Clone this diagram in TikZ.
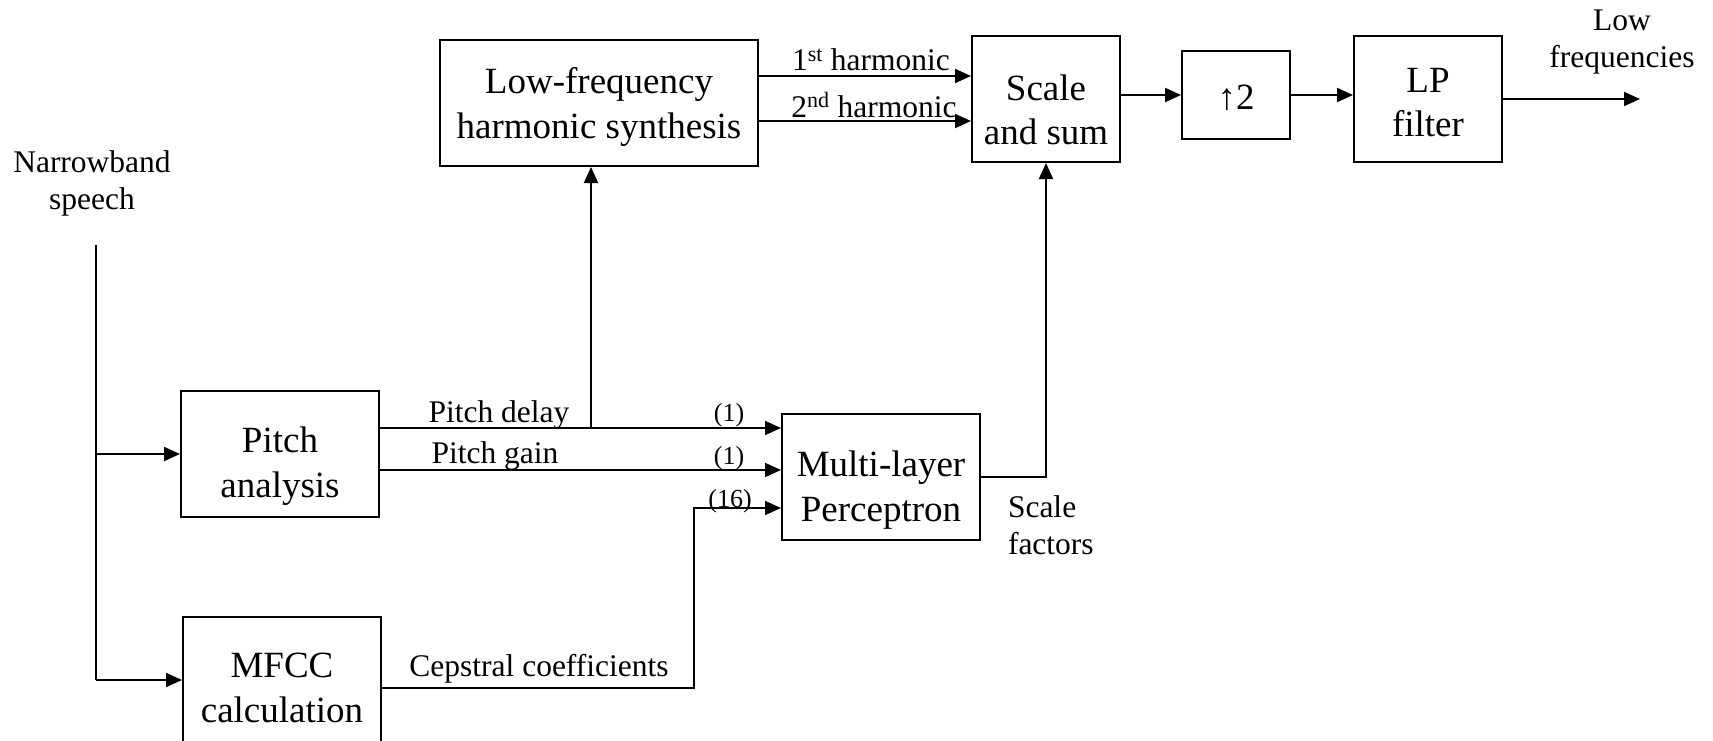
\documentclass[tikz,border=0pt]{standalone}
\usepackage{fontspec}
\setmainfont{Liberation Serif}
\usetikzlibrary{arrows.meta,calc}
\begin{document}
\begin{tikzpicture}[x=1pt,y=-1pt,
  line width=2pt,
  blk/.style={draw,line width=2pt,inner sep=0pt},
  btxt/.style={inner sep=0pt,align=center,font=\fontsize{37}{44.5}\selectfont},
  lbl/.style={inner sep=0pt,align=center,font=\fontsize{31.5}{37}\selectfont},
  sml/.style={inner sep=0pt,font=\fontsize{26}{30}\selectfont},
  arr/.style={-{Triangle[length=16pt,width=14pt]}}]
\useasboundingbox (0,0) rectangle (1713,741);
% blocks
\node[blk,minimum width=318pt,minimum height=126pt] (lf) at (599,103) {};
\node[btxt] (lft) at (599,107) {Low-frequency\\harmonic synthesis};
\node[blk,minimum width=148pt,minimum height=126pt] (ss) at (1046,99) {};
\node[btxt] (sst) at (1046,110) {Scale\\and sum};
\node[blk,minimum width=108pt,minimum height=88pt] (up) at (1236,95) {};
\node[btxt] (upt) at (1236,98) {↑2};
\node[blk,minimum width=148pt,minimum height=126pt] (lp) at (1428,99) {};
\node[btxt] (lpt) at (1428,102.5) {LP\\filter};
\node[blk,minimum width=198pt,minimum height=126pt] (pa) at (280,454) {};
\node[btxt] (pat) at (280,466) {Pitch\\analysis};
\node[blk,minimum width=198pt,minimum height=126pt] (mf) at (282,680) {};
\node[btxt] (mft) at (282,688) {MFCC\\calculation};
\node[blk,minimum width=198pt,minimum height=126pt] (mlp) at (881,477) {};
\node[btxt] (mlpt) at (881,490) {Multi-layer\\Perceptron};
% text labels
\node[lbl] (nb) at (92,183) {Narrowband\\speech};
\node[lbl] (lowf) at (1622,42.5) {Low\\frequencies};
\node[lbl] (h1) at (871,60) {1\textsuperscript{st} harmonic};
\node[lbl] (h2) at (874,105) {2\textsuperscript{nd} harmonic};
\node[lbl] (pdl) at (499,415) {Pitch delay};
\node[lbl] (pgl) at (495,456) {Pitch gain};
\node[sml] (n1) at (729,415.5) {(1)};
\node[sml] (n2) at (729,458.5) {(1)};
\node[sml] (n16) at (730,501) {(16)};
\node[lbl] (cep) at (539,669) {Cepstral coefficients};
\node[lbl,align=left,anchor=west] (sf) at (1007,525.5) {Scale\\factors};
% coordinates
\coordinate (top) at (96,245);
\coordinate (h1a) at ([yshift=27pt]lf.east);
\coordinate (h2a) at ([yshift=-18pt]lf.east);
\coordinate (pd) at ([yshift=26pt]pa.east);
\coordinate (pg) at ([yshift=-16pt]pa.east);
\coordinate (tap) at (591,428);
\coordinate (c16) at ([yshift=-31pt]mlp.west);
\coordinate (cc) at ([yshift=-8pt]mf.east);
\coordinate (bend) at (694,688);
\coordinate (out) at (1640,99);
% connectors
\draw (top) -- (top |- mf.west);
\draw[arr] (top |- pa.west) -- (pa.west);
\draw[arr] (top |- mf.west) -- (mf.west);
\draw[arr] (h1a) -- (h1a -| ss.west);
\draw[arr] (h2a) -- (h2a -| ss.west);
\draw[arr] (up.west -| ss.east) -- (up.west);
\draw[arr] (up.east) -- (up.east -| lp.west);
\draw[arr] (lp.east) -- (out);
\draw[arr] (pd) -- (pd -| mlp.west);
\draw[arr] (pg) -- (pg -| mlp.west);
\draw[arr] (tap) -- (tap |- lf.south);
\draw[arr] (cc) -- (bend) |- (c16);
\draw[arr] (mlp.east) -| (ss.south);
\end{tikzpicture}
\end{document}
